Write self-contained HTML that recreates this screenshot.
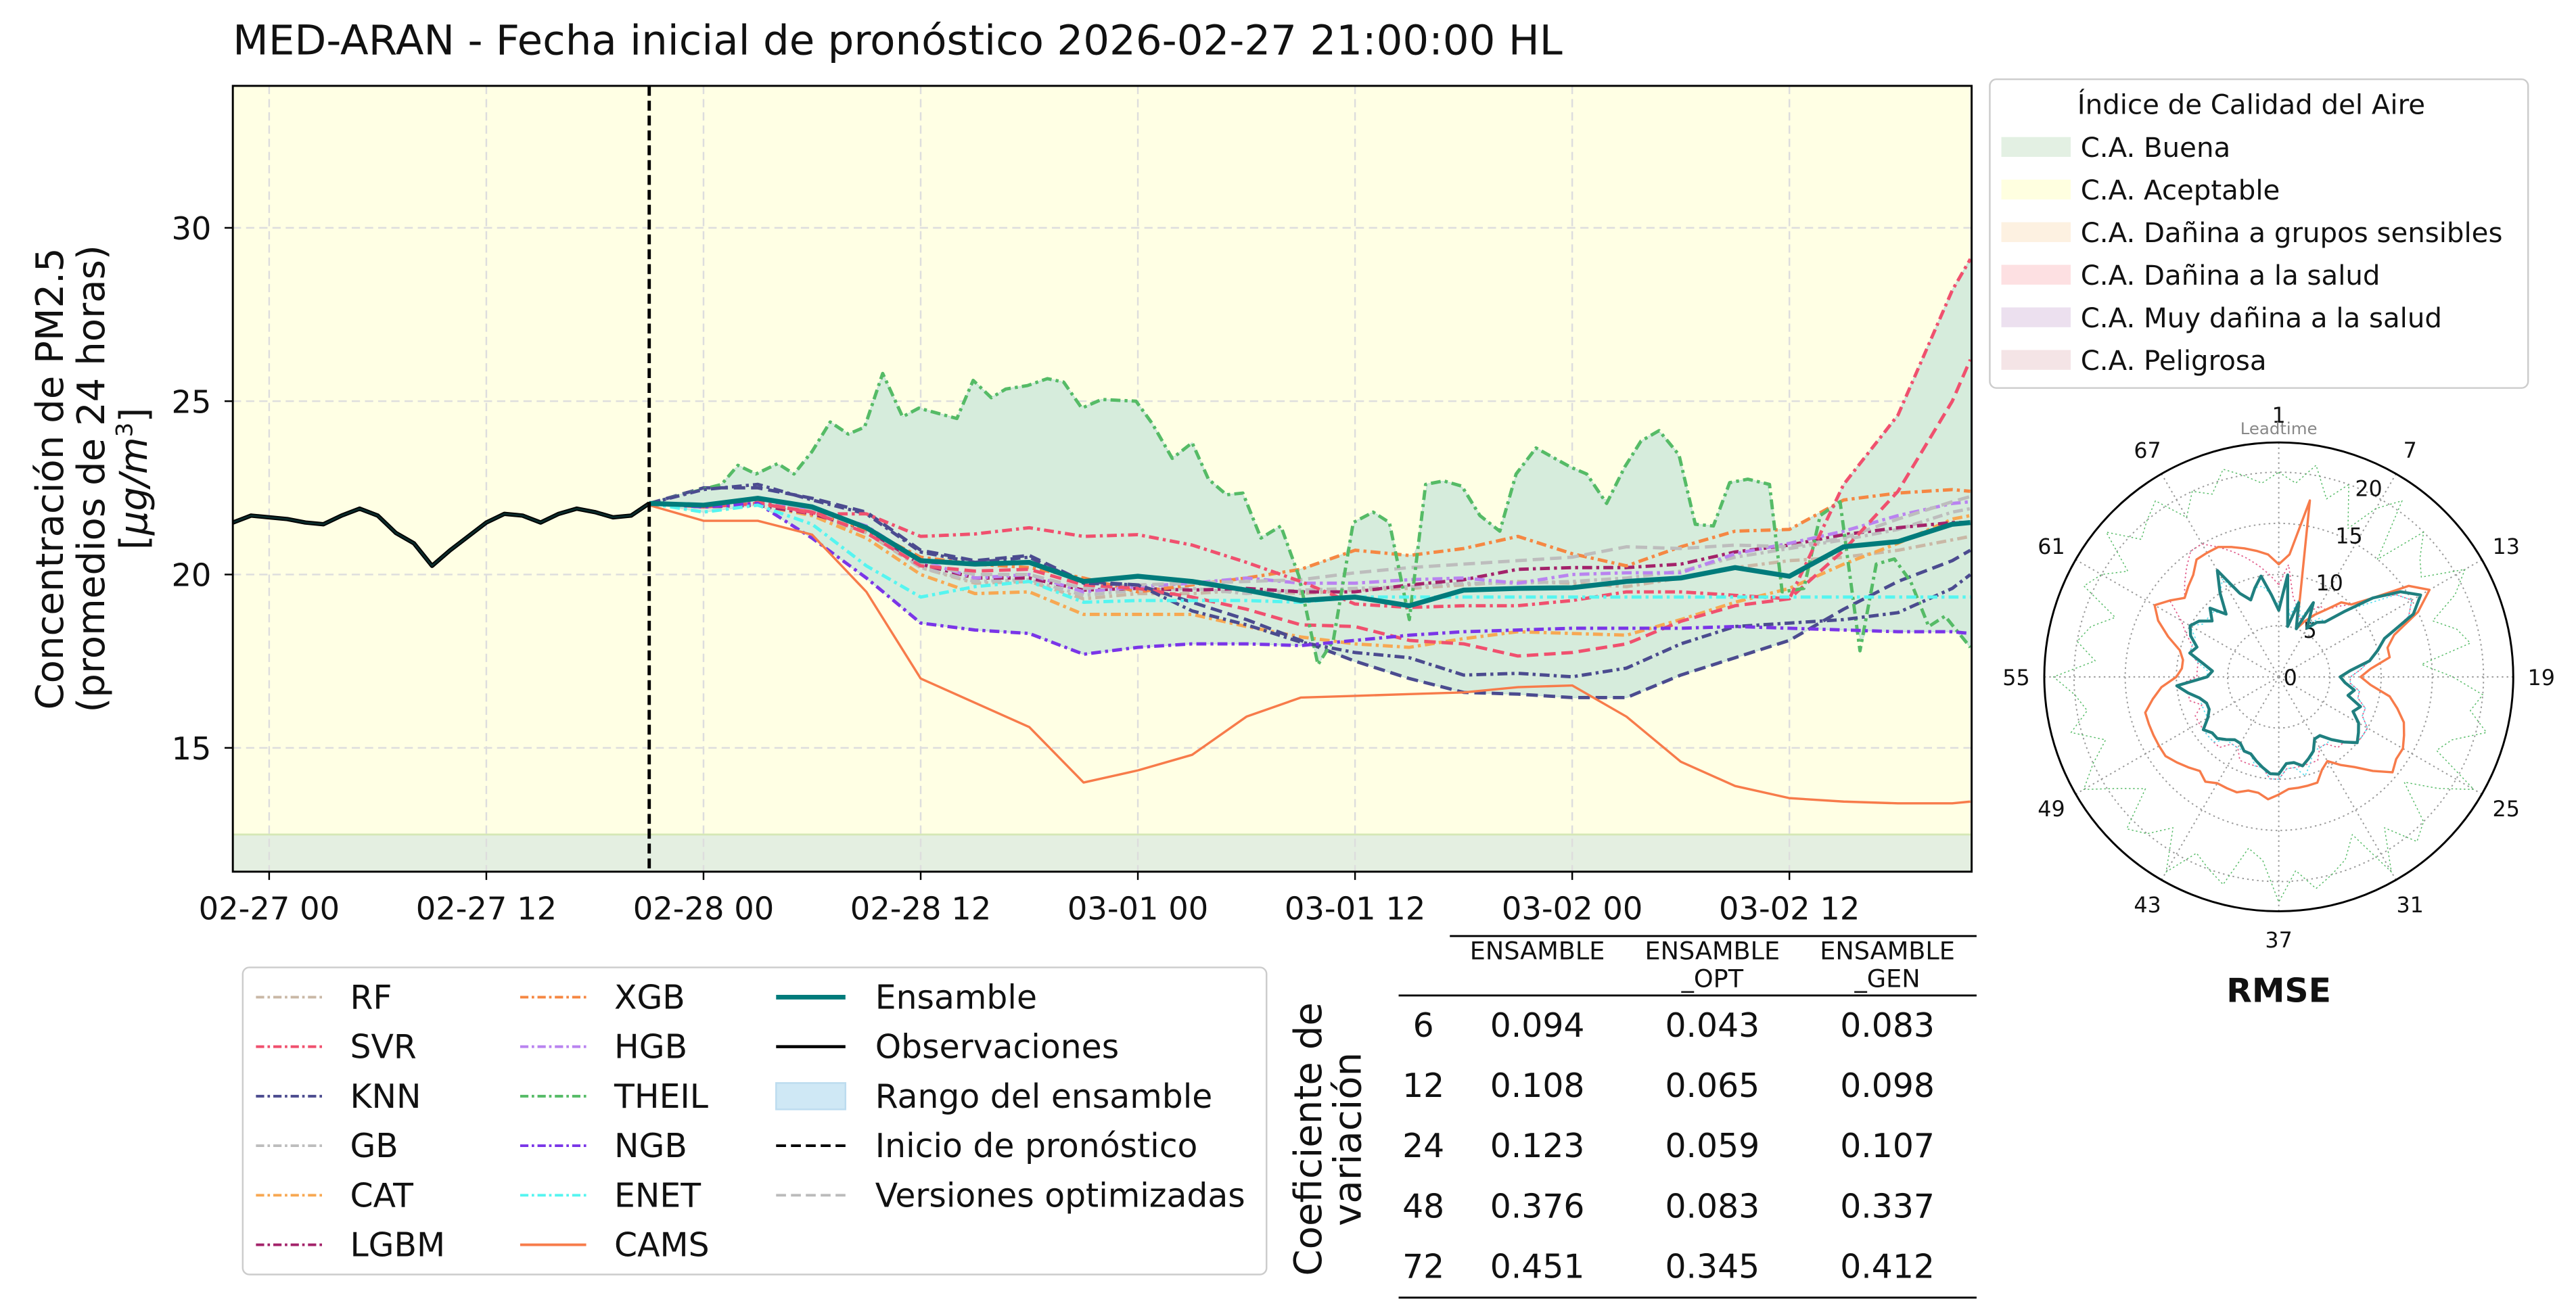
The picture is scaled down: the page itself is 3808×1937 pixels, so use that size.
<!DOCTYPE html>
<html><head><meta charset="utf-8"><style>
html,body{margin:0;padding:0;background:#fff;}
svg{display:block;font-family:"DejaVu Sans","Liberation Sans",sans-serif;}
</style></head><body>
<svg id="fig" width="3808" height="1937" viewBox="0 0 1560 793.5" xmlns="http://www.w3.org/2000/svg">
<text x="141" y="33" font-size="25" fill="#111">MED-ARAN - Fecha inicial de pronóstico 2026-02-27 21:00:00 HL</text>
<defs><clipPath id="pc"><rect x="141" y="52" width="1053" height="476"/></clipPath></defs>
<g id="plot"></g>
<text transform="translate(38,290) rotate(-90)" font-size="23" text-anchor="middle" fill="#111">
<tspan x="0" dy="0">Concentración de PM2.5</tspan><tspan x="0" dy="25">(promedios de 24 horas)</tspan><tspan x="0" dy="26">[<tspan font-style="italic">μg/m</tspan><tspan font-size="14" dy="-9">3</tspan><tspan dy="9">]</tspan></tspan></text>

<g>
<rect x="147" y="586" width="620" height="186" rx="4" fill="#fff" stroke="#ccc" stroke-width="1"/>
<g id="legItems"></g>
</g>

<text transform="translate(800,690) rotate(-90)" font-size="23" text-anchor="middle" fill="#111"><tspan x="0" dy="0">Coeficiente de</tspan><tspan x="0" dy="24">variación</tspan></text>
<g font-size="20" fill="#111" text-anchor="middle">
<line x1="878" y1="567" x2="1197" y2="567" stroke="#000" stroke-width="1.2"/>
<text x="931" y="581" font-size="15">ENSAMBLE</text>
<text x="1037" y="581" font-size="15">ENSAMBLE</text><text x="1037" y="598" font-size="15">_OPT</text>
<text x="1143" y="581" font-size="15">ENSAMBLE</text><text x="1143" y="598" font-size="15">_GEN</text>
<line x1="847" y1="603" x2="1197" y2="603" stroke="#000" stroke-width="1.2"/>
<g id="tableRows"></g>
<line x1="847" y1="786" x2="1197" y2="786" stroke="#000" stroke-width="1.2"/>
</g>

<g font-size="16.5" fill="#111">
<rect x="1205" y="48" width="326" height="187" rx="4" fill="#fff" stroke="#ccc" stroke-width="1"/>
<text x="1258" y="69">Índice de Calidad del Aire</text>
<g id="aqiItems"></g>
</g>
<g id="polar"></g>
<text x="1380" y="607" font-size="20" font-weight="bold" text-anchor="middle" fill="#111">RMSE</text>
</svg>
<script>
const NS='http://www.w3.org/2000/svg';
function mk(t,a,p){const e=document.createElementNS(NS,t);for(const k in a)e.setAttribute(k,a[k]);(p||document.getElementById('fig')).appendChild(e);return e;}

// ---------- data ----------
const xTickHours=[0,12,24,36,48,60,72,84];
const xTickLabels=['02-27 00','02-27 12','02-28 00','02-28 12','03-01 00','03-01 12','03-02 00','03-02 12'];
const yTicks=[15,20,25,30];
const forecastStartHour=21;
const obsHours=[-2,-1,0,1,2,3,4,5,6,7,8,9,10,11,12,13,14,15,16,17,18,19,20,21];
const obsVals=[21.5,21.7,21.65,21.6,21.5,21.45,21.7,21.9,21.7,21.2,20.9,20.25,20.7,21.1,21.5,21.75,21.7,21.5,21.75,21.9,21.8,21.65,21.7,22.05];
const fcHours=[21,24,27,30,33,36,39,42,45,48,51,54,57,60,63,66,69,72,75,78,81,84,87,90,93,94];
const rfVals  =[22.05,21.95,22.0,21.7,21.2,20.2,19.75,19.8,19.3,19.45,19.45,19.55,19.45,19.55,19.6,19.7,19.8,19.75,19.65,19.9,20.2,20.4,20.5,20.7,21.0,21.1];
const svrVals =[22.05,21.95,22.1,21.75,21.75,21.1,21.17,21.35,21.1,21.15,20.85,20.35,19.8,19.15,19.05,19.1,19.1,19.25,19.5,19.5,19.4,19.3,22.6,24.6,28.2,29.1];
const knnVals =[22.05,22.45,22.6,22.15,21.75,20.65,20.35,20.5,19.75,19.7,18.95,18.55,18.05,17.75,17.6,17.1,17.15,17.05,17.3,18.0,18.5,18.6,18.7,18.9,19.6,20.0];
const gbVals  =[22.05,22.0,22.05,21.8,21.3,20.2,19.8,19.85,19.4,19.55,19.6,19.45,19.55,19.6,19.65,19.75,19.75,19.8,19.9,20.1,20.5,20.75,21.0,21.3,21.8,21.9];
const catVals =[22.05,21.95,22.0,21.7,21.05,20.0,19.45,19.5,18.85,18.85,18.85,18.5,18.2,18.0,17.9,18.15,18.35,18.3,18.25,18.7,19.2,19.6,20.3,20.9,21.6,21.7];
const lgbmVals=[22.05,21.95,22.0,21.75,21.3,20.3,19.9,19.9,19.55,19.6,19.55,19.6,19.5,19.5,19.7,19.85,20.15,20.2,20.2,20.3,20.65,20.85,21.15,21.35,21.5,21.5];
const xgbVals =[22.05,21.95,22.05,21.8,21.3,20.5,20.3,20.2,19.9,19.5,19.7,19.9,20.15,20.7,20.55,20.75,21.1,20.6,20.25,20.8,21.25,21.3,22.15,22.35,22.45,22.4];
const hgbVals =[22.05,22.0,22.1,21.9,21.4,20.4,19.9,20.0,19.5,19.65,19.75,19.9,19.75,19.75,19.85,19.9,19.75,20.0,20.05,20.05,20.6,20.9,21.25,21.7,22.05,22.1];
const ngbVals =[22.05,21.95,22.05,21.05,19.9,18.6,18.4,18.3,17.7,17.9,18.0,18.0,17.95,18.1,18.25,18.35,18.4,18.45,18.45,18.45,18.5,18.45,18.4,18.35,18.35,18.3];
const enetVals=[22.05,21.8,22.0,21.45,20.25,19.35,19.65,19.8,19.2,19.25,19.25,19.25,19.2,19.35,19.35,19.35,19.35,19.35,19.35,19.35,19.35,19.35,19.35,19.35,19.35,19.35];
const camsVals=[22.0,21.55,21.55,21.15,19.5,17.0,16.3,15.6,14.0,14.35,14.8,15.9,16.45,16.5,16.55,16.6,16.75,16.8,15.9,14.6,13.9,13.55,13.45,13.4,13.4,13.45];
const ensVals =[22.05,22.0,22.2,21.95,21.35,20.4,20.3,20.35,19.8,19.95,19.8,19.55,19.25,19.35,19.1,19.55,19.6,19.62,19.8,19.9,20.2,19.95,20.8,20.95,21.45,21.5];
const svrOptVals=[22.05,21.95,22.05,21.8,21.2,20.25,20.1,20.15,19.7,19.6,19.35,19.0,18.55,18.5,18.1,18.0,17.65,17.75,18.0,18.65,19.1,19.3,20.7,22.4,25.0,26.2];
const knnOptVals=[22.05,22.5,22.5,22.2,21.8,20.7,20.4,20.55,19.8,19.7,19.2,18.7,18.1,17.5,17.0,16.6,16.55,16.45,16.45,17.1,17.6,18.1,19.0,19.8,20.4,20.7];
const gbOptVals =[22.05,22.0,22.05,21.85,21.35,20.3,20.0,20.0,19.6,19.7,19.75,19.8,19.85,20.05,20.2,20.3,20.4,20.5,20.8,20.75,20.85,20.8,21.05,21.6,22.1,22.25];
const theilHours=[21,25,25.9,26.9,28.1,29,30,31,32,32.9,33.9,35,35.9,38,38.9,39.9,40.7,41.9,43,43.9,44.9,46,47.9,48.8,49.9,51,51.9,52.9,53.8,54.8,55.9,56.9,57.95,58.8,59.9,61,61.9,63,63.9,64.9,65.9,66.9,68,68.9,70,71.9,72.8,73.9,74.9,75.8,76.8,77.9,78.8,79.8,80.7,81.7,82.9,83.6,84.8,85.7,86.8,87.9,88.8,89.8,90.7,91.7,92.6,94];
const theilVals =[22.05,22.6,23.15,22.9,23.2,22.9,23.55,24.4,24.05,24.25,25.8,24.55,24.8,24.5,25.6,25.1,25.35,25.45,25.65,25.55,24.8,25.05,25.0,24.35,23.35,23.8,22.75,22.3,22.35,21.05,21.4,19.95,17.4,18.1,21.5,21.8,21.5,18.7,22.6,22.7,22.55,21.7,21.25,22.9,23.65,23.1,22.9,22.05,23.1,23.85,24.15,23.45,21.45,21.4,22.65,22.75,22.6,19.5,19.6,21.7,22.1,17.8,20.3,20.45,19.8,18.5,18.8,17.9];
const cvLeadtimes=['6','12','24','48','72'];
const cvEns=['0.094','0.108','0.123','0.376','0.451'];
const cvOpt=['0.043','0.065','0.059','0.083','0.345'];
const cvGen=['0.083','0.098','0.107','0.337','0.412'];
const polarAngleLabels=['1','7','13','19','25','31','37','43','49','55','61','67'];
const polarRingVals=[0,5,10,15,20];
const rmseEns=[6.5,10,5,7.5,5,8,5.5,6.5,7,9,12,14.5,16,14.5,11,10,9,7,6,6.5,7.5,7,8.5,8,9,9.5,10,9,8,7,7,8,8.5,9,8.5,8.5,9.5,9.5,9,8.5,8,8,7.5,7.5,8,8.5,8.5,9,8,7.5,7.5,8,9,10,7,6.5,7.5,9,8.5,9.5,10,9.5,8.5,9.5,8,10,12,9,8,9,10,8];
const rmseCams=[11,12,17.5,8,5,6,7,8,9.5,10,12,15.5,17,15,12,11,11,9,8,9,11,12,13,13.5,14,14,14.5,13,11.5,10.5,9.5,10,11,11,11,11,11.5,12,11.5,11.5,12,12,12,12.5,12,12.5,13,13.5,13.5,13.5,13.5,13.5,12.5,11.5,10,9.5,9.5,10,11.5,13,14,13,12,12.5,13,14,14,14,13.5,13,12.5,12];
const rmseTheil=[20,19,21,18,20,16,19,21,15,20,18,17,21,19,16,18,19,14,17,20,19,21,18,17,22,19,16,20,21,18,22,17,19,20,21,19,22,18,17,21,20,19,22,18,20,21,17,19,22,20,18,21,19,20,22,18,20,19,17,21,20,18,22,19,20,21,18,20,19,21,20,19];
const rmseSvr=[9,11,8,7,6,7,8,8,9,10,12,14,15,14,11,10,9,8,7,7,8,8,9,9,10,10,10,9,9,8,8,9,9,9,9,9,10,10,9,9,9,9,8,8,9,9,9,9,9,9,8,9,9,10,8,8,8,9,9,10,11,13,12,13,14,15,15,14,13,12,11,10];
const rmseEnet=[7,9,6,8,6,8,6,7,7,9,11,14,15,14,11,10,9,8,7,7,8,8,9,9,10,10,10,9,8,8,8,8,9,10,9,9,10,10,9,9,8,8,8,8,8,9,9,9,8,8,8,8,9,10,7,7,8,9,9,9,10,9,9,9,8,10,11,9,8,9,9,8];

// ---------- main plot ----------
const plot=document.getElementById('plot');
const X0=163, PXH=10.96, Y20=348, PXU=21;
function X(h){return X0+h*PXH;}
function Y(v){return Y20-(v-20)*PXU;}
mk('rect',{x:141,y:52,width:1053,height:476,fill:'#ffffe4'},plot);
const band=mk('rect',{x:141,y:Y(12.5),width:1053,height:528-Y(12.5),fill:'#e4efe1'},plot);


mk('line',{x1:141,x2:1194,y1:Y(12.5),y2:Y(12.5),stroke:'#d5e8b5','stroke-width':1.2},plot);
yTicks.forEach(v=>{
  mk('line',{x1:141,x2:1194,y1:Y(v),y2:Y(v),stroke:'#ddd','stroke-width':1,'stroke-dasharray':'5,3'},plot);
  const t=mk('text',{x:128,y:Y(v)+7,'font-size':19,'text-anchor':'end',fill:'#111'},plot);t.textContent=v;
  
  
  mk('line',{x1:136,x2:141,y1:Y(v),y2:Y(v),stroke:'#000','stroke-width':1},plot);
});
xTickHours.forEach((h,i)=>{
  mk('line',{x1:X(h),x2:X(h),y1:52,y2:528,stroke:'#ddd','stroke-width':1,'stroke-dasharray':'5,3'},plot);
  mk('line',{x1:X(h),x2:X(h),y1:528,y2:533,stroke:'#000','stroke-width':1},plot);
  const t=mk('text',{x:X(h),y:557,'font-size':19,'text-anchor':'middle',fill:'#111'},plot);t.textContent=xTickLabels[i];
  
  
});
const clip=mk('g',{'clip-path':'url(#pc)'},plot);
function interp(hs,vs,h){if(h<=hs[0])return vs[0];for(let i=1;i<hs.length;i++){if(h<=hs[i]){const f=(h-hs[i-1])/(hs[i]-hs[i-1]);return vs[i-1]+f*(vs[i]-vs[i-1]);}}return vs[vs.length-1];}
const DD='6,2.5,1.8,2.5', DS='7,3.5';
const models=[
 {n:'rf',h:fcHours,v:rfVals,c:'#c9b8a6',d:DD},
 {n:'gb',h:fcHours,v:gbVals,c:'#bdbdbd',d:DD},
 {n:'cat',h:fcHours,v:catVals,c:'#f7a852',d:DD},
 {n:'lgbm',h:fcHours,v:lgbmVals,c:'#a3226a',d:DD},
 {n:'xgb',h:fcHours,v:xgbVals,c:'#f58742',d:DD},
 {n:'hgb',h:fcHours,v:hgbVals,c:'#b983f0',d:DD},
 {n:'gb-opt',h:fcHours,v:gbOptVals,c:'#bdbdbd',d:DS},
 {n:'knn-opt',h:fcHours,v:knnOptVals,c:'#4b4b8f',d:DS},
 {n:'svr-opt',h:fcHours,v:svrOptVals,c:'#f0506e',d:DS},
 {n:'theil',h:theilHours,v:theilVals,c:'#55bb66',d:DD},
 {n:'knn',h:fcHours,v:knnVals,c:'#4b4b8f',d:DD},
 {n:'svr',h:fcHours,v:svrVals,c:'#f0506e',d:DD},
 {n:'ngb',h:fcHours,v:ngbVals,c:'#7a35e8',d:DD},
 {n:'enet',h:fcHours,v:enetVals,c:'#55f5f0',d:DD}
];
let up=[],lo=[];
for(let h=21;h<=94.001;h+=0.25){let mn=1e9,mx=-1e9;models.forEach(m=>{const v=interp(m.h,m.v,h);mn=Math.min(mn,v);mx=Math.max(mx,v);});up.push([X(h),Y(mx)]);lo.push([X(h),Y(mn)]);}
const rng=mk('path',{d:'M'+up.map(p=>p.join(',')).join('L')+'L'+lo.reverse().map(p=>p.join(',')).join('L')+'Z',fill:'#d6ecdc',stroke:'#c5e2d8','stroke-width':0.6},clip);


function line(hs,vs,col,w,dash,name){
  const p=mk('path',{d:'M'+hs.map((h,i)=>X(h)+','+Y(vs[i])).join('L'),fill:'none',stroke:col,'stroke-width':w,'stroke-linejoin':'round'},clip);
  if(dash)p.setAttribute('stroke-dasharray',dash);
  
  
}
models.forEach(m=>line(m.h,m.v,m.c,2,m.d,m.n+'-line'));
line(fcHours,camsVals,'#f77b4a',1.4,null,'cams-line');
line(fcHours,ensVals,'#007b7b',3,null,'ensemble-line');
line(obsHours,obsVals,'#000',2.6,null,'observations-line');
line(obsHours,obsVals,'#0a2a2a',1.2,null,'observations-inner');
const vl=mk('line',{x1:X(forecastStartHour),x2:X(forecastStartHour),y1:52,y2:528,stroke:'#000','stroke-width':2,'stroke-dasharray':'6,3'},plot);


mk('rect',{x:141,y:52,width:1053,height:476,fill:'none',stroke:'#000','stroke-width':1.2},plot);

// ---------- model legend ----------
const li=document.getElementById('legItems');
const leg=[
 ['RF','#c9b8a6','dd',1,604],['SVR','#f0506e','dd',1,634],['KNN','#4b4b8f','dd',1,664],['GB','#bdbdbd','dd',1,694],['CAT','#f7a852','dd',1,724],['LGBM','#a3226a','dd',1,754],
 ['XGB','#f58742','dd',2,604],['HGB','#b983f0','dd',2,634],['THEIL','#55bb66','dd',2,664],['NGB','#7a35e8','dd',2,694],['ENET','#55f5f0','dd',2,724],['CAMS','#f77b4a','s1',2,754],
 ['Ensamble','#007b7b','s3',3,604],['Observaciones','#000','s2',3,634],['Rango del ensamble','#cfe8f5','box',3,664],['Inicio de pronóstico','#000','dash',3,694],['Versiones optimizadas','#bbb','dash',3,724]
];
const colLineX=[0,155,315,470], colTextX=[0,212,372,530];
leg.forEach(e=>{
  const g=mk('g',{},li);
  
  
  const x=colLineX[e[3]],y=e[4],w=(e[3]==3?42:40);
  if(e[2]=='box')mk('rect',{x:x,y:y-8,width:w,height:16,fill:e[1],stroke:'#bcdcef','stroke-width':1},g);
  else{const l=mk('line',{x1:x,x2:x+w,y1:y,y2:y,stroke:e[1],'stroke-width':e[2]=='s3'?2.8:(e[2]=='s2'?1.8:1.6)},g);
    if(e[2]=='dd')l.setAttribute('stroke-dasharray','5,2,1.5,2');if(e[2]=='dash')l.setAttribute('stroke-dasharray','6,3');}
  const t=mk('text',{x:colTextX[e[3]],y:y+7,'font-size':20,fill:'#111'},g);t.textContent=e[0];
});

// ---------- CV table ----------
const tr=document.getElementById('tableRows');
cvLeadtimes.forEach((lt,i)=>{
  const y=628+i*36.5;
  [[862,lt],[931,cvEns[i]],[1037,cvOpt[i]],[1143,cvGen[i]]].forEach(c=>{const t=mk('text',{x:c[0],y:y},tr);t.textContent=c[1];
    
    });
});

// ---------- AQI legend ----------
const aq=document.getElementById('aqiItems');
const aqiLabels=['C.A. Buena','C.A. Aceptable','C.A. Dañina a grupos sensibles','C.A. Dañina a la salud','C.A. Muy dañina a la salud','C.A. Peligrosa'];
const aqiColors=['#e3f0e3','#ffffe0','#fdf1e1','#fde0e2','#ece0ef','#f4e4e6'];
aqiLabels.forEach((l,i)=>{const y=89+i*25.8;
  mk('rect',{x:1212,y:y-6,width:42,height:12,fill:aqiColors[i]},aq);
  const t=mk('text',{x:1260,y:y+6},aq);t.textContent=l;
  
  });

// ---------- polar ----------
const pol=document.getElementById('polar');
const CX=1380,CY=410,R=142,PU=6.2;
function PX(k,r){const a=(k-1)*5*Math.PI/180;return CX+r*PU*Math.sin(a);}
function PY(k,r){const a=(k-1)*5*Math.PI/180;return CY-r*PU*Math.cos(a);}
mk('circle',{cx:CX,cy:CY,r:R,fill:'#fff',stroke:'none'},pol);
polarRingVals.slice(1).forEach(v=>mk('circle',{cx:CX,cy:CY,r:v*PU,fill:'none',stroke:'#999','stroke-width':0.8,'stroke-dasharray':'1,2'},pol));
polarAngleLabels.forEach((l,i)=>{const a=i*30*Math.PI/180;
  mk('line',{x1:CX,y1:CY,x2:CX+R*Math.sin(a),y2:CY-R*Math.cos(a),stroke:'#999','stroke-width':0.8,'stroke-dasharray':'1,2'},pol);
  const t=mk('text',{x:CX+(R+17)*Math.sin(a),y:CY-(R+17)*Math.cos(a)+5,'font-size':13,'text-anchor':'middle',fill:'#111'},pol);t.textContent=l;
  
  });
const lt=mk('text',{x:CX,y:CY-R-5,'font-size':10,'text-anchor':'middle',fill:'#888'},pol);lt.textContent='Leadtime';
polarRingVals.forEach(v=>{const a=22.5*Math.PI/180;const t=mk('text',{x:CX+v*PU*Math.sin(a)+7,y:CY-v*PU*Math.cos(a)+5,'font-size':13,'text-anchor':'middle',fill:'#111'},pol);t.textContent=v;});
function poly(vals,col,w,dash,name){
  const p=mk('path',{d:'M'+vals.map((v,i)=>PX(i+1,v)+','+PY(i+1,v)).join('L')+'Z',fill:'none',stroke:col,'stroke-width':w,'stroke-linejoin':'round'},pol);
  if(dash)p.setAttribute('stroke-dasharray',dash);
  
  
}
poly(rmseTheil,'#55bb66',0.6,'1,1.5','polar-theil');
poly(rmseSvr,'#e05a8a',0.7,'1,1.5','polar-svr');
poly(rmseEnet,'#55e0f0',0.7,'1,1.5','polar-enet');
poly(rmseCams,'#f77b4a',1.4,null,'polar-cams');
poly(rmseEns,'#1f7f7f',1.8,null,'polar-ensemble');
mk('circle',{cx:CX,cy:CY,r:R,fill:'none',stroke:'#000','stroke-width':1.2},pol);
</script>
</body></html>
